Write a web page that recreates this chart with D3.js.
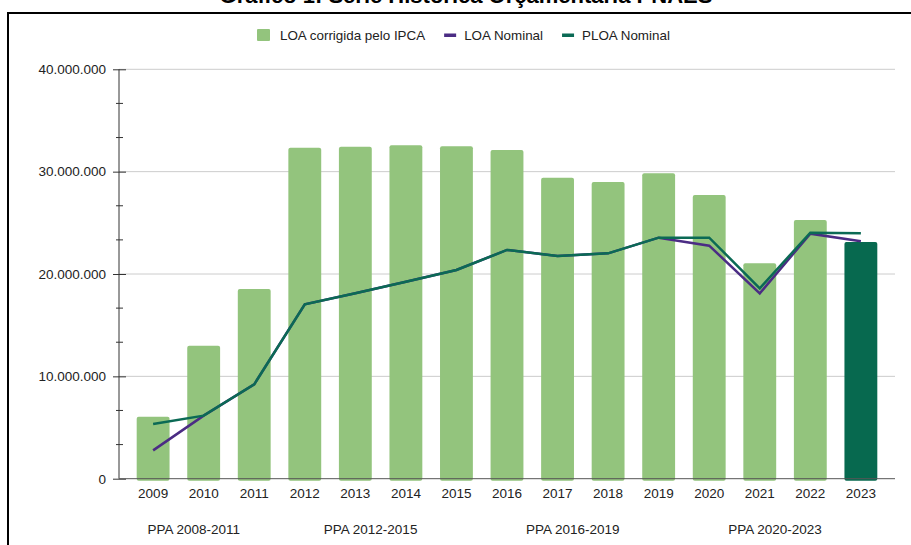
<!DOCTYPE html>
<html>
<head>
<meta charset="utf-8">
<script src="https://cdn.jsdelivr.net/npm/d3@7"></script>
<style>
  body { margin: 0; background: #fff; }
  svg { display: block; font-family: "Liberation Sans", Arial, sans-serif; }
</style>
</head>
<body>
<div class="chart"></div>
<script>
// data (values in R$)
var years = ["2009", "2010", "2011", "2012", "2013", "2014", "2015", "2016",
             "2017", "2018", "2019", "2020", "2021", "2022", "2023"];
var loaCorrigida = [6050000, 13000000, 18540000, 32340000, 32440000, 32570000, 32470000,
                    32120000, 29410000, 28980000, 29840000, 27720000, 21050000, 25280000, 23130000];
var loaNominal = [2770000, 6160000, 9220000, 17040000, 18110000, 19250000, 20390000,
                  22350000, 21760000, 22020000, 23550000, 22770000, 18110000, 23940000, 23190000];
var ploaNominal = [5340000, 6160000, 9220000, 17040000, 18110000, 19250000, 20390000,
                   22350000, 21760000, 22020000, 23550000, 23550000, 18600000, 24040000, 23970000];
var yTicks = [0, 10000000, 20000000, 30000000, 40000000];
var ppaLabels = ["PPA 2008-2011", "PPA 2012-2015", "PPA 2016-2019", "PPA 2020-2023"];
var ppaYears = [["2009", "2011"], ["2012", "2015"], ["2016", "2019"], ["2020", "2023"]];
var seriesNames = ["LOA corrigida pelo IPCA", "LOA Nominal", "PLOA Nominal"];

var W = 911, H = 545;
var barColor = "#93c47d", lastBarColor = "#07694f",
    purple = "#4b2c84", green = "#0b6a55";

var locale = d3.formatLocale({decimal: ",", thousands: ".", grouping: [3], currency: ["R$", ""]});
var fmt = locale.format(",.0f");

var svg = d3.select(".chart").append("svg")
    .attr("width", W)
    .attr("height", H);

// title (mostly cut off at the top of the picture)
svg.append("text")
    .attr("x", 466)
    .attr("y", 3)
    .attr("text-anchor", "middle")
    .style("font-size", "22px")
    .style("font-weight", "bold")
    .attr("fill", "#000")
    .text("Gráfico 1: Série Histórica Orçamentária PNAES");

// frame
svg.append("rect")
    .attr("x", 8).attr("y", 13)
    .attr("width", 960).attr("height", 600)
    .attr("fill", "none")
    .attr("stroke", "#000")
    .attr("stroke-width", 2);

var pLeft = 119, pRight = 895, pTop = 69.3, pBottom = 478.7;

var x = d3.scaleBand()
    .domain(years)
    .range([pLeft, pRight])
    .padding(0.35);

var y = d3.scaleLinear()
    .domain([0, 40000000])
    .range([pBottom, pTop]);

// gridlines
svg.append("g")
    .selectAll("line")
    .data(yTicks.filter(function (d) { return d > 0; }))
    .enter().append("line")
    .attr("x1", pLeft).attr("x2", pRight)
    .attr("y1", function (d) { return y(d); })
    .attr("y2", function (d) { return y(d); })
    .attr("stroke", "#cccccc")
    .attr("stroke-width", 1);

// bars
svg.append("g")
    .selectAll("rect")
    .data(years)
    .enter().append("rect")
    .attr("x", function (d) { return x(d); })
    .attr("y", function (d, i) { return y(loaCorrigida[i]); })
    .attr("width", x.bandwidth())
    .attr("height", function (d, i) { return pBottom - y(loaCorrigida[i]) + 2; })
    .attr("rx", 2)
    .attr("fill", function (d, i) { return i === years.length - 1 ? lastBarColor : barColor; });

// lines
var line = d3.line()
    .x(function (d, i) { return x(years[i]) + x.bandwidth() / 2; })
    .y(function (d) { return y(d); });

svg.append("path")
    .datum(loaNominal)
    .attr("d", line)
    .attr("fill", "none")
    .attr("stroke", purple)
    .attr("stroke-width", 2.5);

svg.append("path")
    .datum(ploaNominal)
    .attr("d", line)
    .attr("fill", "none")
    .attr("stroke", green)
    .attr("stroke-width", 2.5);

// y axis
var yAxis = svg.append("g")
    .attr("transform", "translate(" + pLeft + ",0)")
    .call(d3.axisLeft(y).tickValues(yTicks).tickFormat(fmt).tickSize(6).tickPadding(7));
yAxis.selectAll(".tick line").attr("x2", -6).attr("x1", 7);
var minor = d3.range(0, 40000001, 10000000 / 3).filter(function (d) {
    return Math.abs(d % 10000000) > 1 && Math.abs(d % 10000000 - 10000000) > 1;
});
yAxis.selectAll(".minor")
    .data(minor)
    .enter().append("line")
    .attr("class", "minor")
    .attr("x1", -3).attr("x2", 4)
    .attr("y1", function (d) { return y(d); })
    .attr("y2", function (d) { return y(d); })
    .attr("stroke", "#333");
yAxis.select(".domain").attr("d", "M0," + pTop + "V" + pBottom).attr("stroke", "#333");
yAxis.selectAll(".tick line").attr("stroke", "#333");
yAxis.selectAll(".tick text").style("font-size", "13.5px").attr("fill", "#222");

// x axis
var xAxis = svg.append("g")
    .attr("transform", "translate(0," + pBottom + ")")
    .call(d3.axisBottom(x).tickSize(0).tickPadding(10));
xAxis.select(".domain").attr("d", "M" + pLeft + ",0H" + pRight).attr("stroke", "#555");
xAxis.selectAll(".tick text").style("font-size", "13.5px").attr("fill", "#222");

// PPA period labels
svg.append("g")
    .selectAll("text")
    .data(ppaLabels)
    .enter().append("text")
    .attr("x", function (d, i) {
        var a = x(ppaYears[i][0]), b = x(ppaYears[i][1]);
        return (a + b) / 2 + x.bandwidth() / 2 - 10;
    })
    .attr("y", 534)
    .attr("text-anchor", "middle")
    .style("font-size", "13.5px")
    .attr("fill", "#222")
    .text(function (d) { return d; });

// legend
var leg = svg.append("g").attr("transform", "translate(257,35)");
var lx = 0;
seriesNames.forEach(function (name, i) {
    var g = leg.append("g").attr("transform", "translate(" + lx + ",0)");
    if (i === 0) {
        g.append("rect").attr("x", 0).attr("y", -6).attr("width", 13).attr("height", 12)
            .attr("rx", 1).attr("fill", barColor);
    } else {
        g.append("rect").attr("x", 0).attr("y", -1.5).attr("width", 12).attr("height", 3.5)
            .attr("fill", i === 1 ? purple : green);
    }
    var t = g.append("text")
        .attr("x", i === 0 ? 23 : 20)
        .attr("y", 4.5)
        .style("font-size", "13.4px")
        .attr("fill", "#222")
        .text(name);
    lx += (i === 0 ? 23 : 20) + t.node().getComputedTextLength() + 19;
});
</script>
</body>
</html>
